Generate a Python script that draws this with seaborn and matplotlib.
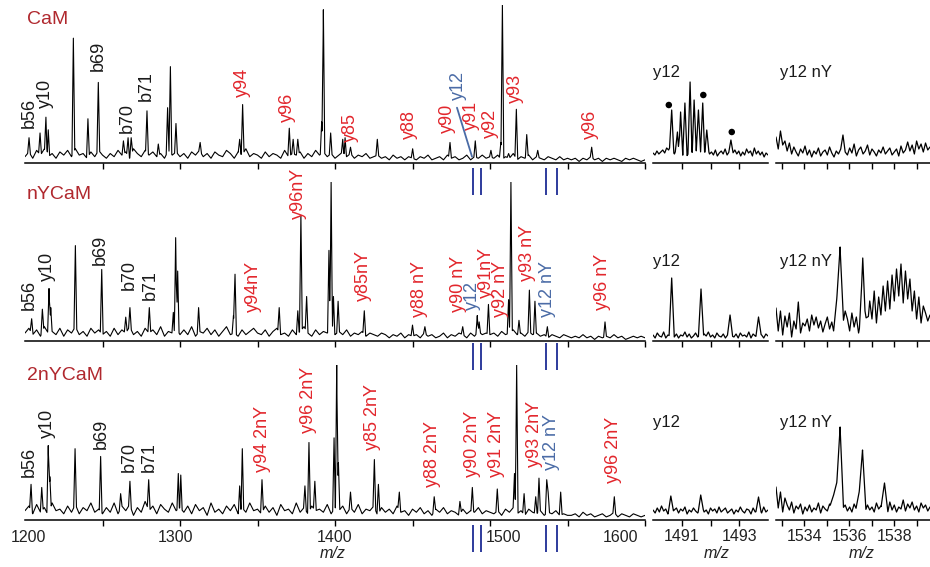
import numpy as np
import matplotlib
matplotlib.use("Agg")
import matplotlib.pyplot as plt
from matplotlib.transforms import blended_transform_factory
import seaborn as sns

# ----------------------------- data -----------------------------
MZ_LO, MZ_HI = 1200, 1600
panel_titles = ["CaM", "nYCaM", "2nYCaM"]
main_ticks = [1250, 1300, 1350, 1400, 1450, 1500, 1550, 1600]
main_ticklabels = ["1200", "1300", "1400", "1500", "1600"]

# CaM: peaks (m/z, relative intensity)
cam_mz = [1202.6, 1209.7, 1213.5, 1215.0, 1231.2, 1240.6, 1247.3, 1263.5, 1266.5, 1268.5,
          1278.7, 1286.0, 1292.0, 1293.8, 1297.4, 1313.0, 1338.5, 1340.4, 1370.5, 1373.0,
          1376.0, 1391.4, 1392.5, 1397.2, 1405.0, 1406.5, 1410.0, 1427.3, 1450.1, 1474.2,
          1490.5, 1500.6, 1507.0, 1508.0, 1512.0, 1517.0, 1523.7, 1530.8, 1565.6]
cam_int = [16, 19, 29, 21, 79, 28, 51, 14, 16, 16,
           33, 12, 35, 61, 25, 13, 15, 37, 22, 15,
           15, 26, 97, 19, 15, 16, 10, 15, 9, 13,
           14, 8, 13, 100, 6, 34, 18, 8, 10]
cam_noise = [4, 7, 3, 8, 5, 9, 4, 6, 3, 7, 5, 8, 4, 9, 5, 6, 3, 7, 4, 8, 5,
             3, 6, 4, 8, 5, 7, 3, 9, 6, 4, 8, 5, 7, 4, 6, 3, 8, 5, 7, 4,
             6, 3, 7, 5, 8, 4, 6, 3, 7, 5, 4, 8, 6, 3, 7, 5, 9, 4, 6, 5,
             3, 7, 4, 6, 5, 3, 8, 4, 6, 5, 7, 3, 6, 4, 8, 5, 7, 4, 6, 3,
             5, 7, 4, 6, 3, 5, 4, 6, 3, 4, 5, 3, 4, 2, 5, 3, 4, 2, 4, 3,
             2, 4, 3, 5, 2, 3, 4, 2, 5, 3, 4, 2, 3, 5, 2, 4, 3, 5, 3, 4,
             3, 5, 2, 4, 3, 6, 2, 4, 3, 5, 2, 4, 3, 2, 4, 3, 2, 4, 2, 3,
             2, 3, 1, 3, 2, 4, 2, 3, 1, 3, 2, 3, 2, 1, 3, 2, 3, 2, 1, 2]

# nYCaM
ny_mz = [1204.3, 1211.2, 1215.5, 1216.6, 1232.5, 1249.5, 1265.0, 1267.7, 1280.2, 1295.7,
         1297.2, 1298.5, 1312.0, 1334.5, 1335.5, 1364.0, 1376.0, 1378.0, 1381.7, 1396.1,
         1397.5, 1399.0, 1402.0, 1418.9, 1450.0, 1458.0, 1482.4, 1491.8, 1493.0, 1499.0,
         1512.0, 1513.5, 1518.7, 1525.4, 1529.0, 1537.0, 1574.2]
ny_int = [14, 20, 33, 21, 60, 45, 15, 21, 21, 18,
          65, 44, 21, 16, 42, 21, 19, 79, 28, 57,
          100, 28, 25, 19, 10, 9, 9, 16, 12, 23,
          26, 100, 13, 32, 25, 9, 12]
ny_noise = [5, 8, 4, 7, 3, 9, 5, 6, 4, 8, 3, 7, 5, 9, 4, 6, 3, 8, 5, 7, 4,
            6, 3, 8, 4, 7, 5, 9, 4, 6, 3, 8, 5, 7, 4, 9, 3, 6, 5, 8, 4,
            7, 4, 9, 3, 6, 5, 8, 4, 7, 3, 6, 9, 4, 5, 3, 7, 4, 6, 8, 5,
            4, 7, 3, 6, 8, 4, 5, 3, 7, 4, 6, 9, 5, 3, 7, 4, 6, 5, 7, 4,
            6, 4, 7, 3, 5, 4, 6, 3, 5, 4, 3, 5, 4, 2, 4, 3, 5, 2, 4, 3,
            4, 2, 5, 3, 4, 2, 3, 5, 2, 4, 3, 5, 4, 2, 5, 3, 6, 4, 5, 4,
            5, 3, 6, 4, 5, 7, 4, 5, 3, 6, 4, 5, 3, 4, 2, 4, 3, 2, 4, 3,
            2, 3, 2, 4, 2, 3, 1, 3, 2, 3, 2, 4, 2, 3, 1, 2, 3, 2, 3, 2]

# 2nYCaM
ny2_mz = [1203.9, 1210.8, 1215.0, 1216.0, 1232.3, 1248.8, 1261.7, 1267.7, 1279.8, 1298.9,
          1300.5, 1338.5, 1340.2, 1352.9, 1380.6, 1383.2, 1387.0, 1399.4, 1401.1, 1402.2,
          1410.0, 1425.4, 1428.0, 1441.5, 1464.0, 1480.6, 1488.6, 1504.7, 1515.8, 1517.2,
          1522.0, 1529.5, 1531.6, 1536.6, 1537.5, 1545.6, 1580.2]
ny2_int = [23, 21, 48, 28, 46, 41, 17, 25, 26, 30,
           29, 22, 46, 26, 22, 50, 25, 53, 100, 37,
           18, 39, 23, 18, 15, 12, 21, 20, 30, 100,
           17, 15, 27, 26, 18, 18, 15]
ny2_noise = [6, 9, 4, 10, 5, 8, 3, 11, 6, 7, 4, 9, 5, 10, 4, 8, 6, 11, 5, 7, 4,
             8, 5, 11, 4, 9, 6, 10, 3, 8, 5, 12, 6, 9, 4, 10, 7, 5, 11, 6, 8,
             5, 9, 4, 10, 6, 8, 3, 11, 5, 7, 4, 9, 6, 10, 4, 8, 5, 11, 6, 7,
             4, 9, 5, 8, 3, 10, 6, 7, 4, 11, 5, 8, 4, 9, 6, 7, 5, 10, 4, 8,
             6, 9, 4, 8, 5, 10, 4, 7, 6, 9, 3, 8, 5, 7, 4, 9, 5, 6, 3, 7,
             5, 8, 4, 6, 3, 7, 5, 8, 4, 6, 5, 3, 7, 4, 6, 5, 8, 4, 6, 5,
             4, 6, 3, 7, 5, 8, 4, 6, 3, 7, 5, 4, 6, 3, 5, 4, 6, 3, 4, 3,
             3, 4, 2, 5, 3, 4, 2, 3, 4, 2, 3, 5, 2, 4, 3, 2, 4, 3, 2, 3]

# fragment annotations
cam_labels = ["b56", "y10", "b69", "b70", "b71", "y94", "y96", "y85", "y88", "y90",
              "y12", "y91", "y92", "y93", "y96"]
cam_label_mz = [1202.6, 1212.9, 1247.1, 1265.8, 1278.1, 1340.0, 1369.0, 1409.7, 1447.7, 1472.3,
                1479.4, 1487.7, 1500.0, 1516.1, 1564.5]
cam_label_kind = ["k", "k", "k", "k", "k", "r", "r", "r", "r", "r", "u", "r", "r", "r", "r"]

ny_labels = ["b56", "y10", "b69", "b70", "b71", "y94nY", "y96nY", "y85nY", "y88 nY", "y90 nY",
             "y12", "y91nY", "y92 nY", "y93 nY", "y12 nY", "y96 nY"]
ny_label_mz = [1202.6, 1214.2, 1248.4, 1267.1, 1280.6, 1347.1, 1376.1, 1418.1, 1454.8, 1479.4,
               1488.4, 1497.4, 1506.5, 1524.5, 1537.4, 1572.9]
ny_label_kind = ["k", "k", "k", "k", "k", "r", "r", "r", "r", "r", "u", "r", "r", "r", "u", "r"]

ny2_labels = ["b56", "y10", "b69", "b70", "b71", "y94 2nY", "y96 2nY", "y85 2nY", "y88 2nY",
              "y90 2nY", "y91 2nY", "y93 2nY", "y12 nY", "y96 2nY"]
ny2_label_mz = [1202.6, 1214.2, 1249.0, 1267.1, 1280.0, 1353.5, 1382.6, 1424.5, 1463.2,
                1488.4, 1504.5, 1529.0, 1540.0, 1579.4]
ny2_label_kind = ["k", "k", "k", "k", "k", "r", "r", "r", "r", "r", "r", "r", "u", "r"]

# zoom windows marked by blue double bars
break_mz = [1489.2, 1494.0, 1536.1, 1543.0]

# insets: y12 window and y12 nY window
Y12_LO, Y12_HI = 1490.0, 1494.0
Y12NY_LO, Y12NY_HI = 1532.73, 1539.6
inset_titles = ["y12", "y12 nY"]
y12_ticks = [1491, 1492, 1493]
y12_ticklabels = ["1491", "", "1493"]
y12ny_ticks = [1533, 1534, 1535, 1536, 1537, 1538, 1539]
y12ny_ticklabels = ["", "1534", "", "1536", "", "1538", ""]

cam_y12_mz = [1490.65, 1490.85, 1490.96, 1491.11, 1491.29, 1491.43, 1491.58, 1491.73, 1491.87, 1492.71]
cam_y12_int = [53, 31, 51, 60, 81, 63, 53, 60, 33, 23]
cam_y12_noise = [10, 8, 12, 9, 11, 13, 10, 15, 13, 17, 12, 9, 14, 8, 12, 7, 10, 6, 9, 7,
                 11, 8, 13, 9, 14, 7, 12, 10, 15, 9, 11, 8, 13, 7, 10, 12, 9, 14, 8, 11,
                 6, 10, 13, 9, 12, 7, 11, 8, 14, 10, 12, 7, 15, 9, 12, 8, 11, 6, 10, 8]
cam_dot_mz = [1490.55, 1491.75, 1492.74]
cam_dot_int = [58, 68, 31]
cam_y12ny_mz = []
cam_y12ny_int = []
cam_y12ny_noise = [26, 14, 32, 18, 22, 12, 20, 9, 16, 11, 7, 14, 10, 17, 8, 13, 6, 12, 9, 15,
                   7, 11, 13, 8, 16, 10, 6, 12, 9, 14, 28, 11, 8, 15, 10, 19, 7, 13, 16, 9,
                   12, 18, 8, 14, 11, 7, 13, 10, 16, 9, 12, 15, 8, 11, 14, 7, 17, 10, 13, 21,
                   12, 18, 9, 22, 14, 19, 11, 20, 13, 16]

ny_y12_mz = [1490.65, 1491.67, 1492.68, 1493.67]
ny_y12_int = [63, 52, 26, 24]
ny_y12_noise = [6, 3, 8, 5, 4, 9, 3, 6, 5, 8, 4, 7, 3, 6, 5, 9, 4, 7, 3, 5,
                8, 4, 6, 3, 7, 5, 9, 4, 6, 3, 8, 5, 4, 7, 3, 6, 9, 5, 4, 7,
                3, 8, 5, 6, 4, 9, 3, 7, 5, 4, 8, 6, 3, 7, 5]
ny_y12ny_mz = [1535.45, 1535.59, 1536.6, 1536.7]
ny_y12ny_int = [45, 94, 83, 30]
ny_y12ny_noise = [33, 10, 30, 6, 25, 14, 28, 4, 20, 12, 39, 8, 18, 15, 22, 10, 26, 16, 24, 13,
                  20, 9, 17, 24, 12, 19, 8, 21, 14, 26, 18, 30, 22, 10, 28, 14, 24, 8, 20, 12,
                  28, 15, 40, 22, 50, 18, 44, 26, 55, 30, 60, 32, 66, 40, 72, 45, 77, 38, 70, 42,
                  62, 30, 50, 22, 44, 18, 35, 28, 20, 26]

ny2_y12_mz = [1490.62, 1491.66, 1493.67]
ny2_y12_int = [24, 25, 23]
ny2_y12_noise = [10, 7, 12, 8, 14, 9, 11, 6, 13, 8, 10, 12, 7, 11, 9, 13, 6, 10, 8, 12,
                 9, 7, 11, 14, 8, 10, 6, 12, 9, 11, 7, 13, 8, 10, 12, 7, 9, 11, 6, 10,
                 8, 13, 9, 7, 11, 10, 6, 12, 8, 9, 11, 7, 13, 8, 10]
ny2_y12ny_mz = [1535.3, 1535.45, 1535.59, 1536.45, 1536.59, 1537.57]
ny2_y12ny_int = [25, 40, 93, 30, 70, 37]
ny2_y12ny_noise = [33, 12, 28, 8, 22, 15, 10, 18, 7, 14, 11, 16, 6, 13, 9, 15, 8, 12, 10, 17,
                   7, 14, 11, 9, 16, 12, 20, 14, 10, 18, 12, 15, 9, 13, 8, 16, 11, 14, 7, 12,
                   9, 15, 10, 13, 8, 17, 11, 14, 9, 12, 7, 18, 10, 15, 8, 13, 11, 20, 9, 16,
                   12, 18, 10, 14, 8, 17, 12, 15, 9, 13]

# ----------------------------- layout / style -----------------------------
W, H = 930, 567
sns.set_theme(style="white")
plt.rcParams["font.family"] = ["Liberation Sans", "DejaVu Sans"]

COL = {"k": "#1a1a1a", "r": "#E2262C", "u": "#4A6BA6"}
TITLE_COL = "#B0282E"
BAR_COL = "#2E3B9C"
LABEL_FS = 13
TICK_FS = 11.5

# pixel geometry: (axis-line y, height above axis)
main_rows = [(163, 158), (341, 159), (520, 155)]
inset_rows = [(163, 100), (341, 100), (520, 100)]
MAIN_X = (25, 645)
Y12_X = (653, 768)
Y12NY_X = (776, 930)
title_baseline = [24, 199, 380]
inset_title_baseline = [77, 266, 427]
bar_segments = [(168, 195), (343, 370), (525, 552)]
label_y = [
    [22, 35, 58, 19, 39, 42, 26, 13, 15, 19, 40, 21, 16, 38, 15],
    [19.5, 38, 48, 32, 26, 18, 77, 25, 15, 18, 19.5, 27, 15, 38, 15, 19.5],
    [28, 53, 46, 31, 31, 31, 56, 45, 21, 28, 28, 34, 32, 24],
]
main_ticklabel_x = [1202, 1297, 1400, 1509, 1584.5]
TICKLABEL_Y = 537
MZ_LABEL_TOP = 546
leader = ((1478.7, 35), (1488.4, 4))

fig = plt.figure(figsize=(W / 100, H / 100), dpi=100)
fig.patch.set_facecolor("white")


def px_axes(x0, x1, axis_y, height):
    return fig.add_axes([x0 / W, 1 - axis_y / H, (x1 - x0) / W, height / H])


def profile(noise, lo, hi, pk_mz, pk_int, w):
    nx = np.linspace(lo, hi, len(noise))
    ny = np.asarray(noise, float)
    pm = np.asarray(pk_mz, float)
    ph = np.asarray(pk_int, float)
    if len(pm):
        keep = np.all(np.abs(nx[:, None] - pm[None, :]) >= w, axis=1)
        xs = np.concatenate([nx[keep], pm - w, pm, pm + w])
    else:
        xs = nx
    xs = np.unique(np.clip(xs, lo, hi))
    ys = np.interp(xs, nx, ny)
    if len(pm):
        tri = (ph[None, :] * np.clip(1 - np.abs(xs[:, None] - pm[None, :]) / w, 0, None)).max(axis=1)
        ys = np.maximum(ys, tri)
    return xs, ys


def style_axes(ax, lo, hi, ticks, labels=None):
    ax.set_xlim(lo, hi)
    ax.set_ylim(0, 100)
    ax.patch.set_alpha(0)
    for s in ["top", "left", "right"]:
        ax.spines[s].set_visible(False)
    ax.spines["bottom"].set_color("black")
    ax.spines["bottom"].set_linewidth(1.1)
    ax.set_yticks([])
    ax.set_xticks(ticks)
    ax.tick_params(axis="x", direction="out", length=4, width=1, color="black",
                   bottom=True, pad=2.5, labelsize=TICK_FS, labelcolor="#222222")
    if labels is None:
        ax.set_xticklabels([])
    else:
        ax.set_xticklabels(labels)
    ax.set_xlabel("")
    ax.set_ylabel("")


main_data = [(cam_mz, cam_int, cam_noise), (ny_mz, ny_int, ny_noise), (ny2_mz, ny2_int, ny2_noise)]
label_data = [(cam_labels, cam_label_mz, cam_label_kind),
              (ny_labels, ny_label_mz, ny_label_kind),
              (ny2_labels, ny2_label_mz, ny2_label_kind)]
inset_data = [
    ((cam_y12_mz, cam_y12_int, cam_y12_noise, 0.075), (cam_y12ny_mz, cam_y12ny_int, cam_y12ny_noise, 0.15)),
    ((ny_y12_mz, ny_y12_int, ny_y12_noise, 0.09), (ny_y12ny_mz, ny_y12ny_int, ny_y12ny_noise, 0.15)),
    ((ny2_y12_mz, ny2_y12_int, ny2_y12_noise, 0.09), (ny2_y12ny_mz, ny2_y12ny_int, ny2_y12ny_noise, 0.15)),
]

main_axes = []
for i in range(3):
    axis_y, hgt = main_rows[i]
    ax = px_axes(MAIN_X[0], MAIN_X[1], axis_y, hgt)
    pm, pi, pn = main_data[i]
    xs, ys = profile(pn, MZ_LO, MZ_HI, pm, pi, 0.9)
    sns.lineplot(x=xs, y=ys, ax=ax, color="black", linewidth=0.8, estimator=None, sort=False)
    style_axes(ax, MZ_LO, MZ_HI, main_ticks)
    labs, lmz, lk = label_data[i]
    for t, m, k, yv in zip(labs, lmz, lk, label_y[i]):
        ax.text(m, yv, t, rotation=90, ha="center", va="bottom", color=COL[k],
                fontsize=LABEL_FS, clip_on=False)
    fig.text(27 / W, 1 - title_baseline[i] / H, panel_titles[i], color=TITLE_COL,
             fontsize=14, ha="left", va="baseline")
    main_axes.append(ax)

# leader line for y12 in top panel
main_axes[0].plot([leader[0][0], leader[1][0]], [leader[0][1], leader[1][1]],
                  color=COL["u"], lw=1.3, clip_on=False)

# tick labels of main axis (bottom row)
tl_tr = blended_transform_factory(main_axes[2].transData, fig.transFigure)
for t, m in zip(main_ticklabels, main_ticklabel_x):
    main_axes[2].text(m, 1 - TICKLABEL_Y / H, t, transform=tl_tr,
                      ha="center", va="center", fontsize=TICK_FS, color="#222222")
fig.text(333 / W, 1 - MZ_LABEL_TOP / H, "m/z", style="italic", ha="center", va="top",
         fontsize=TICK_FS, color="#222222")

# blue double bars marking zoomed windows
btr = blended_transform_factory(main_axes[2].transData, fig.transFigure)
for m in break_mz:
    for y0, y1 in bar_segments:
        main_axes[2].plot([m, m], [1 - y0 / H, 1 - y1 / H], transform=btr, color=BAR_COL,
                          lw=1.4, clip_on=False, solid_capstyle="butt")

# insets
for i in range(3):
    axis_y, hgt = inset_rows[i]
    (am, ai, an, aw), (bm, bi, bn, bw) = inset_data[i]
    bottom = i == 2
    ax1 = px_axes(Y12_X[0], Y12_X[1], axis_y, hgt)
    xs, ys = profile(an, Y12_LO, Y12_HI, am, ai, aw)
    sns.lineplot(x=xs, y=ys, ax=ax1, color="black", linewidth=0.9, estimator=None, sort=False)
    style_axes(ax1, Y12_LO, Y12_HI, y12_ticks, y12_ticklabels if bottom else None)
    if i == 0:
        sns.scatterplot(x=cam_dot_mz, y=cam_dot_int, ax=ax1, color="black", s=22,
                        edgecolor="none", zorder=5)
        ax1.set_xlabel("")
        ax1.set_ylabel("")
    ax2 = px_axes(Y12NY_X[0], Y12NY_X[1], axis_y, hgt)
    xs, ys = profile(bn, Y12NY_LO, Y12NY_HI, bm, bi, bw)
    sns.lineplot(x=xs, y=ys, ax=ax2, color="black", linewidth=0.9, estimator=None, sort=False)
    style_axes(ax2, Y12NY_LO, Y12NY_HI, y12ny_ticks, y12ny_ticklabels if bottom else None)
    fig.text(653 / W, 1 - inset_title_baseline[i] / H, inset_titles[0], fontsize=12,
             ha="left", va="baseline", color="#1a1a1a")
    fig.text(780 / W, 1 - inset_title_baseline[i] / H, inset_titles[1], fontsize=12,
             ha="left", va="baseline", color="#1a1a1a")

fig.text(717 / W, 1 - MZ_LABEL_TOP / H, "m/z", style="italic", ha="center", va="top",
         fontsize=TICK_FS, color="#222222")
fig.text(862 / W, 1 - MZ_LABEL_TOP / H, "m/z", style="italic", ha="center", va="top",
         fontsize=TICK_FS, color="#222222")

fig.savefig("out.png", dpi=100, facecolor="white")
